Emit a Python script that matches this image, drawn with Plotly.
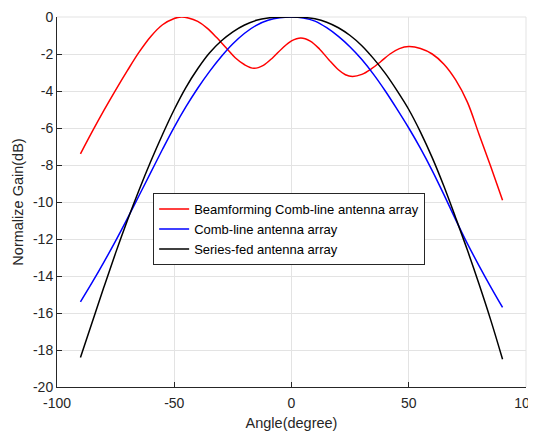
import plotly.graph_objects as go

# Data
angle = [-90, -85, -80, -75, -70, -65, -60, -55, -50, -45, -40, -35, -30, -25, -20, -15, -10, -5,
         0, 5, 10, 15, 20, 25, 30, 35, 40, 45, 50, 55, 60, 65, 70, 75, 80, 85, 90]

comb_line = [-15.4, -14.35, -13.25, -12.1, -10.9, -9.65, -8.4, -7.15, -5.95, -4.85, -3.85, -2.95,
             -2.15, -1.45, -0.88, -0.45, -0.18, -0.04, 0.0, -0.05, -0.22, -0.58, -1.05, -1.62,
             -2.3, -3.1, -4.0, -4.98, -6.0, -7.1, -8.3, -9.6, -10.95, -12.25, -13.45, -14.6, -15.7]

series_fed = [-18.4, -16.5, -14.6, -12.75, -11.0, -9.35, -7.8, -6.35, -5.0, -3.8, -2.8, -1.95,
              -1.3, -0.8, -0.43, -0.18, -0.05, -0.01, 0.0, -0.02, -0.1, -0.28, -0.58, -1.0,
              -1.55, -2.25, -3.05, -3.98, -5.0, -6.22, -7.6, -9.15, -10.85, -12.6, -14.45, -16.4, -18.5]

beam_angle = [-90, -85, -80, -75, -70, -65, -60, -55, -50, -47, -44, -40, -36, -32, -28, -24, -20,
              -16, -12, -8, -4, 0, 4, 8, 12, 16, 20, 23, 26, 30, 34, 38, 42, 46, 50,
              55, 60, 65, 70, 75, 80, 85, 90]
beamforming = [-7.4, -6.2, -5.05, -3.95, -2.9, -1.9, -1.05, -0.42, -0.08, 0.0, -0.05, -0.24, -0.6,
               -1.1, -1.65, -2.2, -2.58, -2.77, -2.61, -2.2, -1.7, -1.29, -1.13, -1.3, -1.74,
               -2.32, -2.85, -3.12, -3.21, -3.1, -2.81, -2.42, -2.0, -1.71, -1.6,
               -1.7, -2.0, -2.55, -3.4, -4.6, -6.35, -8.1, -9.9]

x_ticks = [-100, -50, 0, 50, 100]
y_ticks = [0, -2, -4, -6, -8, -10, -12, -14, -16, -18, -20]

FONT = "Liberation Sans, Arial, Helvetica, sans-serif"
TXT = "#262626"
GRID = "#e3e3e3"

fig = go.Figure()
fig.add_trace(go.Scatter(x=beam_angle, y=beamforming, mode="lines", line_shape="spline",
                         line=dict(color="#ff0000", width=1.5, smoothing=1.0),
                         name="Beamforming Comb-line antenna array"))
fig.add_trace(go.Scatter(x=angle, y=comb_line, mode="lines", line_shape="spline",
                         line=dict(color="#0000ff", width=1.5, smoothing=1.0),
                         name="Comb-line antenna array"))
fig.add_trace(go.Scatter(x=angle, y=series_fed, mode="lines", line_shape="spline",
                         line=dict(color="#000000", width=1.5, smoothing=1.0),
                         name="Series-fed antenna array"))

# grid lines along the top and right edges of the axes box (as in the original)
fig.add_shape(type="line", xref="paper", yref="paper", x0=0, x1=1, y0=1, y1=1,
              line=dict(color=GRID, width=1), layer="below")
fig.add_shape(type="line", xref="paper", yref="paper", x0=1, x1=1, y0=0, y1=1,
              line=dict(color=GRID, width=1), layer="below")

# page body adds an 8px offset, so the figure is sized 8px smaller
fig.update_layout(
    width=528, height=423,
    margin=dict(l=49, r=10, t=9, b=44),
    paper_bgcolor="white", plot_bgcolor="white",
    font=dict(family=FONT, size=13, color=TXT),
    showlegend=True,
    legend=dict(x=0.205, y=0.4266, xanchor="left", yanchor="middle",
                bgcolor="white", bordercolor=TXT, borderwidth=1,
                font=dict(family=FONT, size=13, color="#000000"),
                tracegroupgap=0, itemwidth=30),
    xaxis=dict(range=[-100, 100], tickvals=x_ticks, ticktext=[str(v) for v in x_ticks],
               showgrid=True, gridcolor=GRID, gridwidth=1, zeroline=False,
               showline=True, linecolor=TXT, linewidth=1, automargin=False,
               ticks="inside", ticklen=5, tickcolor=TXT, ticklabeloverflow="allow",
               ticklabelstandoff=3,
               tickfont=dict(size=14, color=TXT),
               title=dict(text="Angle(degree)", font=dict(size=14.5, color=TXT), standoff=9)),
    yaxis=dict(range=[-20, 0], tickvals=y_ticks, ticktext=[str(v) for v in y_ticks],
               showgrid=True, gridcolor=GRID, gridwidth=1, zeroline=False,
               showline=True, linecolor=TXT, linewidth=1, automargin=False,
               ticks="inside", ticklen=5, tickcolor=TXT, ticklabeloverflow="allow",
               tickfont=dict(size=14, color=TXT),
               title=dict(text="Normalize Gain(dB)", font=dict(size=14.5, color=TXT), standoff=5)),
)

fig.write_html("out.html")
